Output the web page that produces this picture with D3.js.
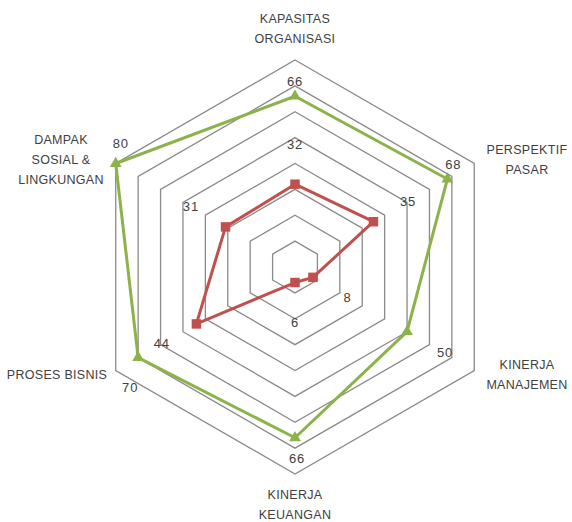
<!DOCTYPE html>
<html>
<head>
<meta charset="utf-8">
<script src="https://cdn.jsdelivr.net/npm/d3@7"></script>
<style>
  body { margin: 0; background: #fff; }
  text { font-family: "Liberation Sans", Arial, sans-serif; fill: #404040; }
</style>
</head>
<body>
<div id="chart"></div>
<script>
// axis names, clockwise from the top
var categories = [
  ["KAPASITAS", "ORGANISASI"],
  ["PERSPEKTIF", "PASAR"],
  ["KINERJA", "MANAJEMEN"],
  ["KINERJA", "KEUANGAN"],
  ["PROSES BISNIS"],
  ["DAMPAK", "SOSIAL &", "LINGKUNGAN"]
];
var greenValues = [66, 68, 50, 66, 70, 80];
var redValues = [32, 35, 8, 6, 44, 31];
var gridTicks = [10, 20, 30, 40, 50, 60, 70, 80];

var w = 572, h = 522;
var cx = 295, cy = 267, R = 207;

var svg = d3.select("#chart").append("svg")
  .attr("width", w)
  .attr("height", h);

var r = d3.scaleLinear().domain([0, 80]).range([0, R]);
var angle = d3.scaleLinear().domain([0, categories.length]).range([0, 2 * Math.PI]);

function pt(i, v) {
  var a = angle(i);
  return [cx + r(v) * Math.sin(a), cy - r(v) * Math.cos(a)];
}

// hexagon grid
var line = d3.line();
svg.append("g").selectAll("path")
  .data(gridTicks)
  .join("path")
  .attr("d", function(t) {
    return line(categories.map(function(c, i) { return pt(i, t); })) + "Z";
  })
  .attr("fill", "none")
  .attr("stroke", "#8a8a8a")
  .attr("stroke-width", 1.3);

// category names (where each block of text is centred)
var catPos = [[0, -238], [232, -107], [232, 108], [0, 238], [-238, 108], [-234, -107]];
categories.forEach(function(lines, i) {
  var t = svg.append("text")
    .attr("text-anchor", "middle")
    .style("font-size", "12.5px")
    .style("letter-spacing", "0.3px");
  var n = lines.length;
  lines.forEach(function(s, k) {
    t.append("tspan")
      .attr("x", cx + catPos[i][0])
      .attr("y", cy + catPos[i][1] + (k - (n - 1) / 2) * 20)
      .attr("dy", "0.35em")
      .text(s);
  });
});

// series
function drawSeries(values, color, marker, labelOffset) {
  var pts = values.map(function(v, i) { return pt(i, v); });
  svg.append("path")
    .attr("d", line(pts) + "Z")
    .attr("fill", "none")
    .attr("stroke", color)
    .attr("stroke-width", 3)
    .attr("stroke-linejoin", "round");

  svg.append("g").selectAll("path")
    .data(pts)
    .join("path")
    .attr("transform", function(p) { return "translate(" + p[0] + "," + p[1] + ")"; })
    .attr("d", d3.symbol().type(marker).size(marker === d3.symbolSquare ? 90 : 60))
    .attr("fill", color);

  svg.append("g").selectAll("text")
    .data(values)
    .join("text")
    .attr("x", function(v, i) { return pts[i][0] + labelOffset(v, i)[0]; })
    .attr("y", function(v, i) { return pts[i][1] + labelOffset(v, i)[1]; })
    .attr("dy", "0.35em")
    .attr("text-anchor", "middle")
    .style("font-size", "13px")
    .style("letter-spacing", "0.8px")
    .text(function(v) { return v; });
}

// green labels sit just off each point
var greenShift = [[0, -15], [6, -15], [38, 21], [2, 21], [-8, 30], [5, -20]];
drawSeries(greenValues, "#8cb24a", d3.symbolTriangle, function(v, i) { return greenShift[i]; });

// red labels are pushed outward along the spoke
drawSeries(redValues, "#c0504d", d3.symbolSquare, function(v, i) {
  var a = angle(i);
  return [40 * Math.sin(a), -40 * Math.cos(a)];
});
</script>
</body>
</html>
